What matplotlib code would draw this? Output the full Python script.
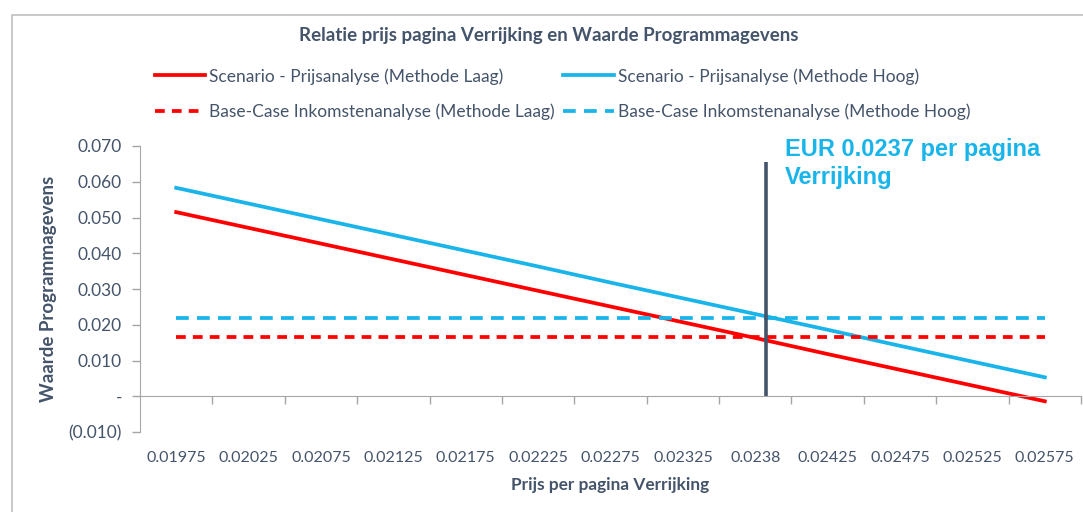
import matplotlib
matplotlib.use("Agg")
import matplotlib.pyplot as plt
import matplotlib.ticker as ticker
from matplotlib.patches import Rectangle

# ------------------------------------------------------------
# Data
# ------------------------------------------------------------
prijzen = ["0.01975", "0.02025", "0.02075", "0.02125", "0.02175", "0.02225",
           "0.02275", "0.02325", "0.0238", "0.02425", "0.02475", "0.02525",
           "0.02575"]

scenario_laag = [0.0515, 0.0471, 0.0427, 0.0383, 0.0339, 0.0295, 0.0251,
                 0.0207, 0.0163, 0.0118, 0.0074, 0.0030, -0.0014]
scenario_hoog = [0.0583, 0.0539, 0.0495, 0.0451, 0.0407, 0.0363, 0.0318,
                 0.0274, 0.0230, 0.0186, 0.0141, 0.0097, 0.0053]
basecase_laag = [0.0165] * 13
basecase_hoog = [0.0218] * 13

breakeven_pos = 8.15      # positie op de categorie-as
breakeven_top = 0.0655
annotatie = "EUR 0.0237 per pagina\nVerrijking"

# ------------------------------------------------------------
# Stijl
# ------------------------------------------------------------
ROOD = "#FF0000"
BLAUW = "#19B5EA"
TEKST = "#44546A"
AS = "#A6A6A6"

plt.rcParams["font.family"] = ["Lato", "DejaVu Sans"]

fig = plt.figure(figsize=(10.83, 5.12), dpi=100)
ax = fig.add_axes([140 / 1083, 1 - 432 / 512, 941 / 1083, 286 / 512])

x = list(range(len(prijzen)))

l1, = ax.plot(x, scenario_laag, color=ROOD, linewidth=2.7,
              label="Scenario - Prijsanalyse (Methode Laag)")
l2, = ax.plot(x, scenario_hoog, color=BLAUW, linewidth=2.7,
              label="Scenario - Prijsanalyse (Methode Hoog)")
l3, = ax.plot(x, basecase_laag, color=ROOD, linewidth=2.7, dashes=(2.6, 1.9),
              label="Base-Case Inkomstenanalyse (Methode Laag)")
l4, = ax.plot(x, basecase_hoog, color=BLAUW, linewidth=2.7, dashes=(3.4, 2.2),
              label="Base-Case Inkomstenanalyse (Methode Hoog)")

ax.plot([breakeven_pos, breakeven_pos], [0, breakeven_top],
        color="#44546A", linewidth=2.6, solid_capstyle="butt")

ax.text(breakeven_pos + 0.26, 0.0722, annotatie, color=BLAUW,
        fontsize=17, fontweight="bold", family="Liberation Sans",
        va="top", ha="left", linespacing=1.25, clip_on=False)

# assen
ax.set_xlim(-0.5, len(prijzen) - 0.5)
ax.set_ylim(-0.010, 0.070)
ax.yaxis.set_major_locator(ticker.MultipleLocator(0.010))


def fmt_y(v, pos):
    if abs(v) < 1e-9:
        return "-"
    if v < 0:
        return f"({abs(v):.3f})"
    return f"{v:.3f}"


ax.yaxis.set_major_formatter(ticker.FuncFormatter(fmt_y))

for kant in ["top", "right"]:
    ax.spines[kant].set_visible(False)
ax.spines["left"].set_color(AS)
ax.spines["bottom"].set_color(AS)
ax.spines["bottom"].set_position(("data", 0))

ax.set_xticks([i + 0.5 for i in range(len(prijzen))])
ax.set_xticklabels([])
ax.tick_params(axis="x", length=6, width=1, color=AS, direction="out")
ax.tick_params(axis="y", length=6, width=1, color=AS, direction="out",
               labelsize=12.5, labelcolor=TEKST, pad=7)

sec = ax.secondary_xaxis("bottom")
sec.set_xticks(x)
sec.set_xticklabels(prijzen)
sec.tick_params(length=0, pad=14, labelsize=11.5, labelcolor=TEKST)
sec.spines["bottom"].set_visible(False)
sec.set_xlabel("Prijs per pagina Verrijking", fontsize=12.4,
               fontweight="bold", color=TEKST, labelpad=8)

ax.set_ylabel("Waarde Programmagevens", fontsize=13.5, fontweight="bold",
              color=TEKST, labelpad=8)

fig.text(549 / 1083, 1 - 36 / 512,
         "Relatie prijs pagina Verrijking en Waarde Programmagevens",
         fontsize=13.5, fontweight="bold", color=TEKST,
         ha="center", va="center")

# volgorde: kolomsgewijs gevuld, dus rij 1 = Scenario, rij 2 = Base-Case
leg = fig.legend(handles=[l1, l3, l2, l4], loc="upper left",
                 bbox_to_anchor=(155 / 1083, 1 - 68 / 512),
                 ncol=2, frameon=False, fontsize=12.5, handlelength=2.9,
                 handletextpad=0.22, columnspacing=0.5, labelspacing=1.07,
                 borderpad=0, borderaxespad=0)
for t in leg.get_texts():
    t.set_color(TEKST)

# rand van het grafiekgebied
fig.patches.append(Rectangle((12 / 1083, -0.1), 1.2, 1 - 15 / 512 + 0.1,
                             transform=fig.transFigure, fill=False,
                             edgecolor="#BFBFBF", linewidth=1.2))

fig.savefig("out.png", dpi=100)
